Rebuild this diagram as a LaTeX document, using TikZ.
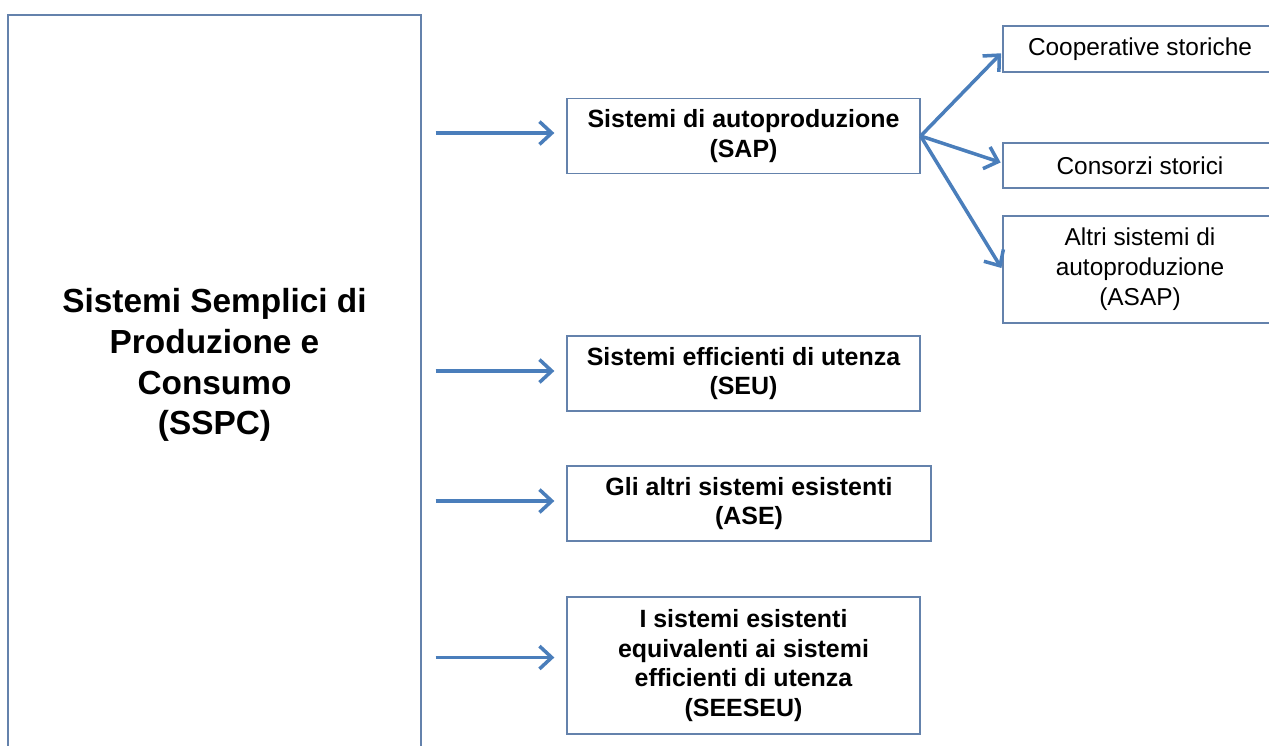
\documentclass[tikz,border=0pt]{standalone}
\usepackage{fontspec}
\setmainfont{Liberation Sans}
\usetikzlibrary{arrows.meta}
\definecolor{boxline}{RGB}{100,130,172}
\definecolor{arrowblue}{RGB}{74,126,187}

\begin{document}
\begin{tikzpicture}[x=0.02cm, y=-0.02cm,
        box/.style = {draw=boxline, line width=0.8pt, fill=white, align=center, inner sep=2pt},
        sub/.style = {box, font=\fontsize{14.2}{17}\selectfont\bfseries, minimum width=7.06cm, minimum height=1.5cm},
        leaf/.style = {box, font=\fontsize{13.9}{17}\selectfont, minimum width=5.48cm},
        arr/.style = {draw=arrowblue, line width=2pt, -{Straight Barb[length=7pt, width=13pt]}}]
        \useasboundingbox (0,0) rectangle (1269,745);
        \clip (0,0) rectangle (1269,745);
        % main block on the left
        \node[box, minimum width=8.26cm, minimum height=15.2cm] (sspc) at (214.5,395) {};
        \node[font=\fontsize{19}{23.2}\selectfont\bfseries, align=center] (sspctext) at (214.5,365) {Sistemi Semplici di\\Produzione e\\Consumo\\(SSPC)};
        % second column
        \node[sub] (sap) at (743.5,136) {Sistemi di autoproduzione\\(SAP)};
        \node[sub] (seu) at (743.5,373.5) {Sistemi efficienti di utenza\\(SEU)};
        \node[sub, minimum width=7.28cm] (ase) at (749,503.5) {Gli altri sistemi esistenti\\(ASE)};
        \node[sub, minimum height=2.74cm] (seeseu) at (743.5,665.5) {I sistemi esistenti\\equivalenti ai sistemi\\efficienti di utenza\\(SEESEU)};
        % third column
        \node[leaf, minimum height=0.92cm] (coop) at (1140,49) {Cooperative storiche};
        \node[leaf, minimum height=0.9cm] (consorzi) at (1140,165.5) {Consorzi storici};
        \node[leaf, minimum height=2.14cm] (asap) at (1140,269.5) {Altri sistemi di\\autoproduzione\\(ASAP)};
        \draw[arr, shorten <=0.28cm, shorten >=0.24cm] ([yshift=0.06cm]sspc.east |- sap.west) -- ([yshift=0.06cm]sap.west);
        \draw[arr, shorten <=0.28cm, shorten >=0.24cm] ([yshift=0.05cm]sspc.east |- seu.west) -- ([yshift=0.05cm]seu.west);
        \draw[arr, shorten <=0.28cm, shorten >=0.24cm] ([yshift=0.05cm]sspc.east |- ase.west) -- ([yshift=0.05cm]ase.west);
        \draw[arr, shorten <=0.28cm, shorten >=0.24cm] ([yshift=0.16cm]sspc.east |- seeseu.west) -- ([yshift=0.16cm]seeseu.west);
        \draw[arr, shorten >=1pt] (sap.east) -- ([yshift=-0.06cm]coop.west);
        \draw[arr, shorten >=1pt] (sap.east) -- ([yshift=0.05cm]consorzi.west);
        \draw[arr, shorten >=1pt] (sap.east) -- (asap.west);
\end{tikzpicture}
\end{document}
